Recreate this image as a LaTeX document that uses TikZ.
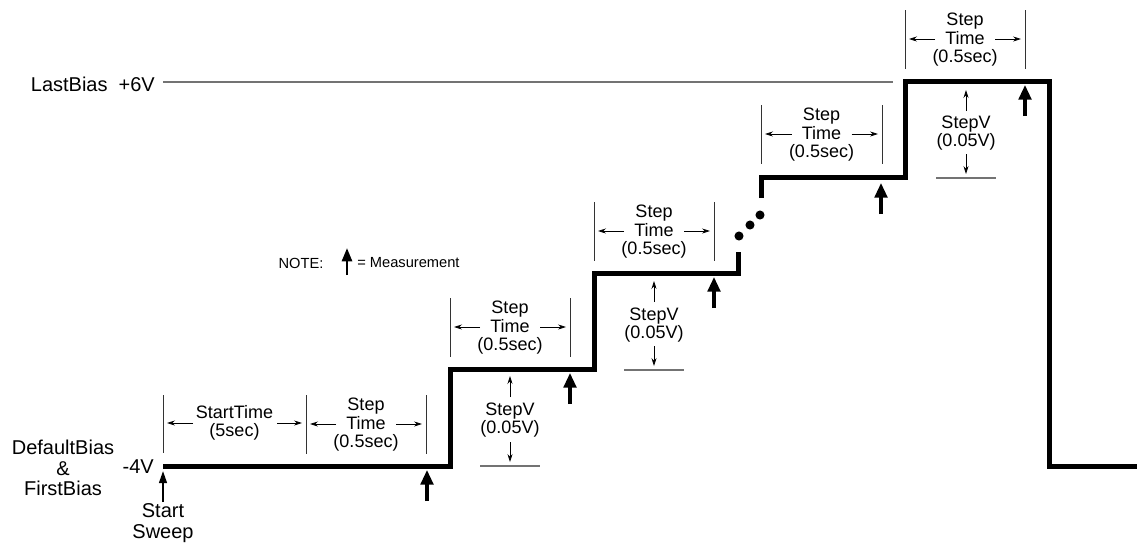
\documentclass[tikz,border=0pt]{standalone}
\usepackage{fontspec}
\setmainfont{Liberation Sans}
\usetikzlibrary{arrows.meta}
\begin{document}
\begin{tikzpicture}[x=0.75pt,y=-0.75pt,
  trace/.style={line width=3.75pt, line join=miter, line cap=butt},
  meas/.style={line width=2.4pt, -{Triangle[length=11pt,width=9.5pt]}},
  startarr/.style={line width=1.5pt, -{Triangle[length=9pt,width=5.8pt]}},
  notearr/.style={line width=2pt, -{Triangle[length=10pt,width=7.5pt]}},
  dimline/.style={line width=0.7pt, black!80},
  dimarrow/.style={line width=0.6pt, -{Stealth[length=6pt,width=3.8pt]}},
  baseln/.style={line width=1pt, black!55},
  lbl/.style={font=\fontsize{13.5}{13.9}\selectfont, align=center, inner sep=0pt},
  biglbl/.style={font=\fontsize{15}{15.4}\selectfont, align=center, inner sep=0pt},
  notelbl/.style={font=\fontsize{11}{12}\selectfont, inner sep=0pt},
  dot/.style={fill=black, circle, inner sep=0pt, minimum size=6.8pt}
]
\useasboundingbox (0,0) rectangle (1138,544);

% LastBias reference line
\coordinate (lb0) at (163,82);
\coordinate (lb1) at (893,82);
\draw[baseln, line width=1.2pt] (lb0) -- (lb1);

% trace
\coordinate (t0) at (163,466);
\coordinate (t1) at (450,466);
\coordinate (t2) at (450,369);
\coordinate (t3) at (594,369);
\coordinate (t4) at (594,273);
\coordinate (t5) at (738,273);
\coordinate (t6) at (738,252);
\draw[trace] (t0) -- (t1) -- (t2) -- (t3) -- (t4) -- (t5) -- (t6);
\coordinate (u0) at (761,198);
\coordinate (u1) at (761,177);
\coordinate (u2) at (905,177);
\coordinate (u3) at (905,81);
\coordinate (u4) at (1049,81);
\coordinate (u5) at (1049,466);
\coordinate (u6) at (1137,466);
\draw[trace] (u0) -- (u1) -- (u2) -- (u3) -- (u4) -- (u5) -- (u6);

% dots
\node[dot] (d1) at (739,236) {};
\node[dot] (d2) at (750,225) {};
\node[dot] (d3) at (760,215) {};

% StartTime block
\coordinate (s1a) at (163,395); \coordinate (s1b) at (163,453);
\coordinate (s2a) at (306,395); \coordinate (s2b) at (306,453);
\draw[dimline] (s1a) -- (s1b);
\draw[dimline] (s2a) -- (s2b);
\node[lbl] (st) at (234.5,423) {StartTime\\(5sec)};
\coordinate (stl0) at (193,423); \coordinate (stl1) at (167,423);
\coordinate (str0) at (277,423); \coordinate (str1) at (302,423);
\draw[dimarrow] (stl0) -- (stl1);
\draw[dimarrow] (str0) -- (str1);

% Step Time blocks
\foreach \n/\xa/\xb/\yt in {a/306/426/395, b/450/570/298, c/594/714/202, d/761/882/105, e/905/1025/10}{
  \coordinate (\n la) at (\xa,\yt);
  \coordinate (\n lb) at (\xa,\yt+59);
  \coordinate (\n ra) at (\xb,\yt);
  \coordinate (\n rb) at (\xb,\yt+59);
  \draw[dimline] (\n la) -- (\n lb);
  \draw[dimline] (\n ra) -- (\n rb);
  \node[lbl] (\n t) at ({(\xa+\xb)/2},\yt+30) {Step\\Time\\(0.5sec)};
  \coordinate (\n al0) at ({(\xa+\xb)/2-30},\yt+29);
  \coordinate (\n al1) at (\xa+4,\yt+29);
  \coordinate (\n ar0) at ({(\xa+\xb)/2+30},\yt+29);
  \coordinate (\n ar1) at (\xb-4,\yt+29);
  \draw[dimarrow] (\n al0) -- (\n al1);
  \draw[dimarrow] (\n ar0) -- (\n ar1);
}

% StepV blocks
\foreach \n/\x/\yu/\yc/\yb in {p/510/376/420/466, q/654/281/325/370, r/966/90/133/178}{
  \coordinate (\n u0) at (\x,\yu+21);
  \coordinate (\n u1) at (\x,\yu);
  \draw[dimarrow] (\n u0) -- (\n u1);
  \node[lbl] (\n v) at (\x,\yc) {StepV\\(0.05V)};
  \coordinate (\n d0) at (\x,\yb-24);
  \coordinate (\n d1) at (\x,\yb-4);
  \draw[dimarrow] (\n d0) -- (\n d1);
  \coordinate (\n b0) at (\x-30,\yb);
  \coordinate (\n b1) at (\x+30,\yb);
  \draw[baseln] (\n b0) -- (\n b1);
}

% measurement arrows
\foreach \n/\x/\y in {m1/427/470, m2/570/373, m3/714/277, m4/881/183, m5/1025/85}{
  \coordinate (\n a) at (\x,\y+31);
  \coordinate (\n b) at (\x,\y);
  \draw[meas] (\n a) -- (\n b);
}

% start sweep
\coordinate (ss0) at (163,502);
\coordinate (ss1) at (163,471);
\draw[startarr] (ss0) -- (ss1);
\node[biglbl] (ssl) at (163,523) {Start\\Sweep};

% left labels
\node[biglbl] (defl) at (63,468) {DefaultBias\\\&\\FirstBias};
\node[biglbl, anchor=east] (m4v) at (154,467) {-4V};
\node[biglbl, anchor=east] (p6v) at (155,84) {LastBias\hspace{0.55em}+6V};

% note
\node[notelbl] (note) at (301,263) {NOTE:};
\coordinate (na0) at (347,275);
\coordinate (na1) at (347,248);
\draw[notearr] (na0) -- (na1);
\node[notelbl, anchor=west] (meas) at (357,263) {= Measurement};
\end{tikzpicture}
\end{document}
